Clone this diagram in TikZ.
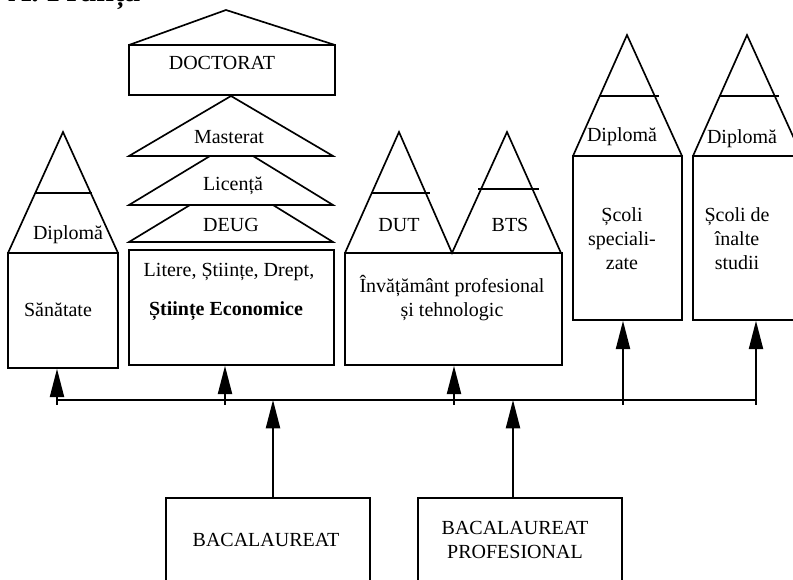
\documentclass[tikz,border=0pt]{standalone}
\usepackage{fontspec}
\setmainfont{Liberation Serif}
\usetikzlibrary{arrows.meta}

\tikzset{
  box/.style={draw, line width=1pt, inner sep=0pt},
  roof/.style={draw, line width=1pt},
  up/.style={line width=1pt, -{Triangle[length=17pt, width=8.5pt]}},
}

\begin{document}
\begin{tikzpicture}[x=0.6pt, y=-0.6pt, font=\fontsize{12}{14.4}\selectfont, style={align=center}]
	\path[use as bounding box, clip] (0,0) rectangle (793,580);
	\node[anchor=base west, inner sep=0pt, font=\bfseries\fontsize{19}{22}\selectfont] (titlu) at (8,2) {A. Franța};

	% Sanatate
	\node[box, minimum width=66pt, minimum height=69pt] (san) at (63,310.5) {};
	\node (santxt) at (58,310) {Sănătate};
	\draw[roof] (8,253) -- (63,132) -- (118,253);
	\draw[roof] (35,193) -- (92,193);
	\node (sandip) at (68,235) {Diplomă};

	% universitati
	\node[box, minimum width=123pt, minimum height=69pt] (lit) at (231.5,307.5) {};
	\node (littxt) at (229,272) {Litere, Științe, Drept,};
	\node[font=\fontsize{12}{14.4}\selectfont\bfseries] (ecotxt) at (226,311) {Științe Economice};
	\draw[roof] (129,242) -- (190,205) -- (273,205) -- (333,242) -- cycle;
	\node (deug) at (231,225) {DEUG};
	\draw[roof] (129,205) -- (210,156) -- (253,156) -- (333,205) -- cycle;
	\node (lic) at (233,186) {Licență};
	\draw[roof] (129,156) -- (231,96) -- (333,156) -- cycle;
	\node (mast) at (229,137) {Masterat};
	\node[box, minimum width=123.6pt, minimum height=30pt] (doc) at (232,70) {};
	\node (doctxt) at (222,63) {DOCTORAT};
	\draw[roof] (129,45) -- (226,10) -- (335,45);

	% invatamant profesional
	\node[box, minimum width=130.2pt, minimum height=67.2pt] (inv) at (453.5,309) {};
	\node (invtxt) at (452,298.5) {Învățământ profesional\\și tehnologic};
	\draw[roof] (345,253) -- (399,132) -- (452,253) -- (507,132) -- (561,253);
	\draw[roof] (371,193) -- (430,193);
	\draw[roof] (478,189) -- (539,189);
	\node (dut) at (399,225) {DUT};
	\node (bts) at (510,225) {BTS};

	% scoli
	\node[box, minimum width=65.4pt, minimum height=98.4pt] (sco) at (627.5,238) {};
	\node (scotxt) at (622,239) {Școli\\speciali-\\zate};
	\draw[roof] (573,156) -- (627,35) -- (682,156);
	\draw[roof] (599,96) -- (659,96);
	\node (scodip) at (622,137) {Diplomă};

	\node[box, minimum width=65.4pt, minimum height=98.4pt] (ina) at (747.5,238) {};
	\node (inatxt) at (737,239) {Școli de\\înalte\\studii};
	\draw[roof] (693,156) -- (747,35) -- (802,156);
	\draw[roof] (719,96) -- (779,96);
	\node (inadip) at (742,139) {Diplomă};

	% bacalaureat
	\node[box, minimum width=122.4pt, minimum height=73.2pt] (bac) at (268,559) {};
	\node (bactxt) at (266,540) {BACALAUREAT};
	\node[box, minimum width=122.4pt, minimum height=73.2pt] (bacp) at (520,559) {};
	\node (bacptxt) at (515,540) {BACALAUREAT\\PROFESIONAL};

	% magistrala
	\coordinate (b1) at (57,405);
	\coordinate (b2) at (225,405);
	\coordinate (b3) at (454,405);
	\coordinate (b4) at (623,405);
	\coordinate (b5) at (756,405);
	\coordinate (t1) at (273,400);
	\coordinate (t2) at (513,400);
	\draw[line width=1pt] (57,400) -- (756,400);
	\draw[up] (b1) -- (b1 |- san.south);
	\draw[up] (b2) -- (b2 |- lit.south);
	\draw[up] (b3) -- (b3 |- inv.south);
	\draw[up] (b4) -- (b4 |- sco.south);
	\draw[up] (b5) -- (b5 |- ina.south);
	\draw[up] (bac.north -| t1) -- (t1);
	\draw[up] (bacp.north -| t2) -- (t2);
\end{tikzpicture}
\end{document}
